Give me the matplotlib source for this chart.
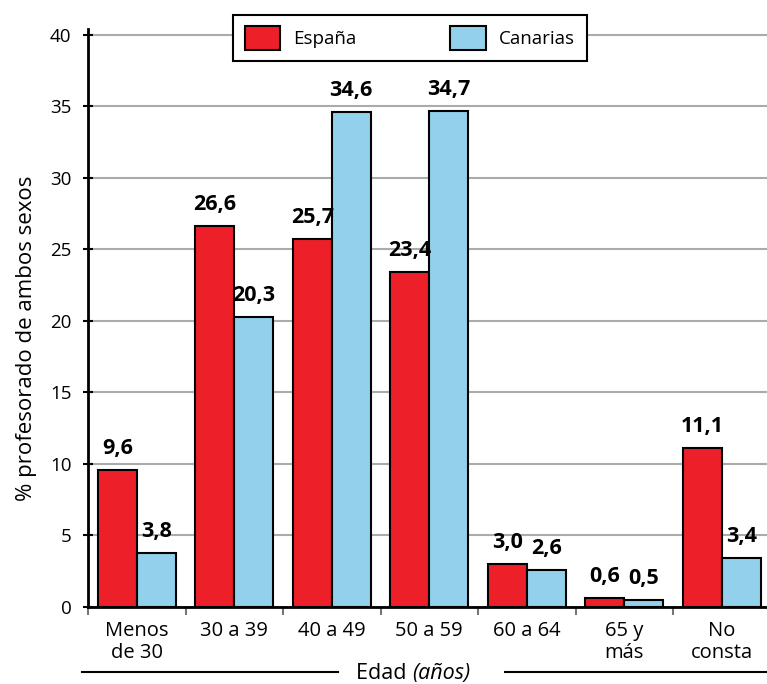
import matplotlib
matplotlib.use('Agg')
import matplotlib.pyplot as plt
import numpy as np
from matplotlib.lines import Line2D

categorias = ['Menos\nde 30', '30 a 39', '40 a 49', '50 a 59', '60 a 64', '65 y\nmás', 'No\nconsta']
espana = [9.6, 26.6, 25.7, 23.4, 3.0, 0.6, 11.1]
canarias = [3.8, 20.3, 34.6, 34.7, 2.6, 0.5, 3.4]
series = ['España', 'Canarias']

rojo = '#ED2029'
azul = '#92D0EC'

plt.rcParams['font.family'] = ['Open Sans', 'DejaVu Sans']

fig = plt.figure(figsize=(7.67, 6.84), dpi=100)
ax = fig.add_axes([88/767, 77/684, 682.5/767, 578/684])

x = np.arange(len(categorias))
w = 0.4
b1 = ax.bar(x - w/2, espana, w, color=rojo, edgecolor='black', linewidth=1.5, label=series[0], zorder=3)
b2 = ax.bar(x + w/2, canarias, w, color=azul, edgecolor='black', linewidth=1.5, label=series[1], zorder=3)

# etiquetas de valor sobre cada barra
for bars, vals in ((b1, espana), (b2, canarias)):
    for rect, v in zip(bars, vals):
        ax.annotate(f'{v:.1f}'.replace('.', ','),
                    xy=(rect.get_x() + rect.get_width()/2, v),
                    xytext=(0, 11.5), textcoords='offset points',
                    ha='center', va='baseline', fontsize=15.5, fontweight='bold')

ax.set_xlim(-0.5, 6.5)
ax.set_ylim(0, 40.4)
ax.set_yticks(range(0, 41, 5))
ax.yaxis.grid(True, color='#ababab', lw=1.5)
ax.set_axisbelow(True)
for s in ('top', 'right'):
    ax.spines[s].set_visible(False)
for s in ('left', 'bottom'):
    ax.spines[s].set_linewidth(2)

ax.tick_params(axis='y', direction='inout', length=7, width=1.5, labelsize=13.5, pad=8.5)
ax.set_xticks(x, categorias, linespacing=1.15)
ax.tick_params(axis='x', which='major', length=0, labelsize=14.5, pad=10)
ax.set_xticks(np.arange(-0.5, 6.5, 1), minor=True)
ax.tick_params(axis='x', which='minor', length=6, width=1.5, color='#777777', direction='out')

ax.set_ylabel('% profesorado de ambos sexos', fontsize=16)
ax.yaxis.set_label_coords(-0.075, 0.464)

leg = fig.legend(loc='center', bbox_to_anchor=(410/767, 1 - 38/684), ncol=2, fontsize=13.5,
                 frameon=True, fancybox=False, edgecolor='black', framealpha=1,
                 handlelength=1.9, handleheight=1.6, handletextpad=0.7,
                 columnspacing=5.0, borderpad=0.6)
leg.get_frame().set_linewidth(1.5)

# título del eje x con parte en cursiva y líneas a los lados
t1 = fig.text(356/767, 5/684, 'Edad ', fontsize=15.5, va='baseline', ha='left')
ax.annotate('(años)', xy=(1, 0), xycoords=t1, va='bottom', ha='left', fontsize=15.5, style='italic')
fig.add_artist(Line2D([82/767, 338/767], [12/684, 12/684], transform=fig.transFigure, color='black', lw=1.5))
fig.add_artist(Line2D([505/767, 1.0], [12/684, 12/684], transform=fig.transFigure, color='black', lw=1.5))

fig.savefig('out.png', dpi=100)
